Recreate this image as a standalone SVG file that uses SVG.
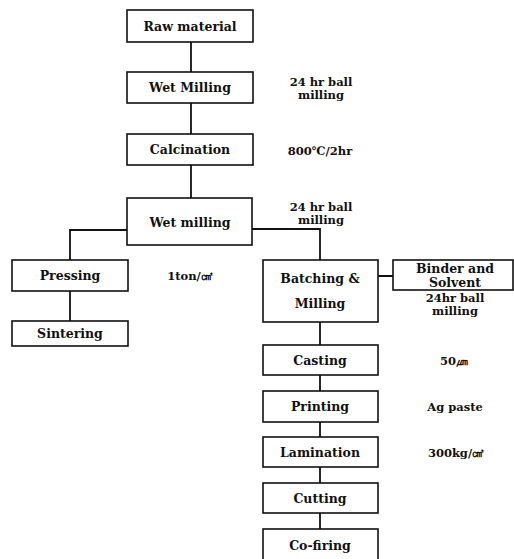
<svg xmlns="http://www.w3.org/2000/svg" width="514" height="559" viewBox="0 0 514 559">
<style>
.box{fill:#fff;stroke:#111;stroke-width:1.6}
.t{font-family:"DejaVu Serif","Liberation Serif",serif;font-weight:bold;font-size:12.5px;fill:#111;text-anchor:middle}
.a{font-family:"DejaVu Serif","Liberation Serif",serif;font-weight:bold;font-size:11.5px;fill:#111;text-anchor:middle}
.c{fill:none;stroke:#111;stroke-width:1.8}
</style>
<rect width="514" height="559" fill="#fff"/>
<g id="connectors">
<path class="c" d="M191,42V72M191,103V134M191,165V198"/>
<path class="c" d="M127,230H70V260M70,291V321"/>
<path class="c" d="M252,229H320V260M378,276H393"/>
<path class="c" d="M320,322V345M320,375V391M320,422V437M320,467V483M320,513V529"/>
</g>
<g id="raw"><rect class="box" x="127" y="10" width="126" height="32"/><text class="t" x="190" y="30.5">Raw material</text></g>
<g id="wetmill1"><rect class="box" x="127" y="72" width="126" height="31"/><text class="t" x="190" y="92">Wet Milling</text></g>
<g id="wetmill1-note"><text class="a" x="321" y="86">24 hr ball</text><text class="a" x="321" y="99">milling</text></g>
<g id="calc"><rect class="box" x="127" y="134" width="126" height="31"/><text class="t" x="190" y="154">Calcination</text></g>
<g id="calc-note"><text class="a" x="320" y="155">800℃/2hr</text></g>
<g id="wetmill2"><rect class="box" x="127" y="198" width="125" height="47"/><text class="t" x="190" y="227">Wet  milling</text></g>
<g id="wetmill2-note"><text class="a" x="321" y="211">24 hr ball</text><text class="a" x="321" y="224">milling</text></g>
<g id="pressing"><rect class="box" x="12" y="260" width="116" height="31"/><text class="t" x="70" y="280">Pressing</text></g>
<g id="pressing-note"><text class="a" x="190" y="280">1ton/㎠</text></g>
<g id="sintering"><rect class="box" x="12" y="321" width="116" height="25"/><text class="t" x="70" y="338">Sintering</text></g>
<g id="batching"><rect class="box" x="263" y="260" width="115" height="62"/><text class="t" x="320" y="283">Batching &amp;</text><text class="t" x="320" y="308">Milling</text></g>
<g id="binder"><rect class="box" x="393" y="260" width="120" height="30"/><text class="t" x="455" y="272.5">Binder and</text><text class="t" x="455" y="286.5">Solvent</text></g>
<g id="binder-note"><text class="a" x="455" y="302">24hr ball</text><text class="a" x="455" y="315">milling</text></g>
<g id="casting"><rect class="box" x="263" y="345" width="115" height="30"/><text class="t" x="320" y="365">Casting</text></g>
<g id="casting-note"><text class="a" x="454" y="365">50㎛</text></g>
<g id="printing"><rect class="box" x="263" y="391" width="115" height="31"/><text class="t" x="320" y="411">Printing</text></g>
<g id="printing-note"><text class="a" x="455" y="411">Ag paste</text></g>
<g id="lamination"><rect class="box" x="263" y="437" width="115" height="30"/><text class="t" x="320" y="457">Lamination</text></g>
<g id="lamination-note"><text class="a" x="456" y="457">300kg/㎠</text></g>
<g id="cutting"><rect class="box" x="263" y="483" width="115" height="30"/><text class="t" x="320" y="503">Cutting</text></g>
<g id="cofiring"><rect class="box" x="263" y="529" width="115" height="40"/><text class="t" x="320" y="550">Co-firing</text></g>
</svg>
